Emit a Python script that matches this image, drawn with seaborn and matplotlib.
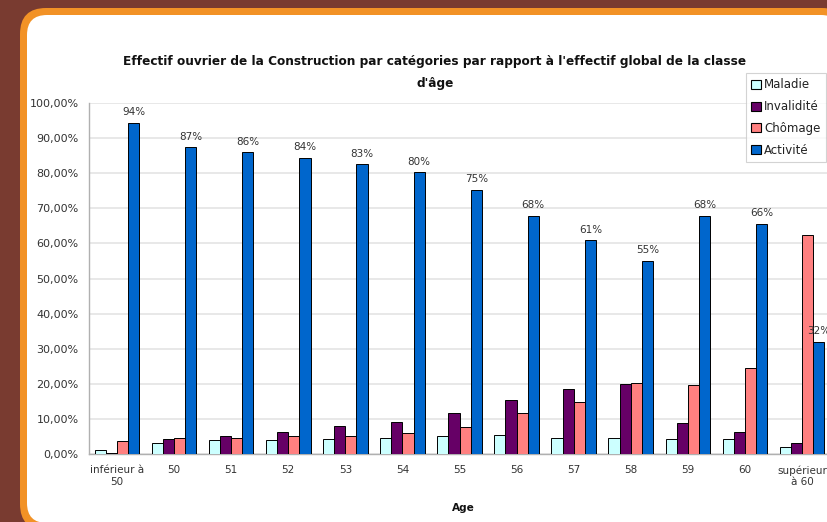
import numpy as np
import pandas as pd
import matplotlib
matplotlib.use('Agg')
import matplotlib.pyplot as plt
from matplotlib.patches import FancyBboxPatch, Patch
from matplotlib.transforms import IdentityTransform
import seaborn as sns

# Data (percent of the age class)
ages = ["inférieur à\n50", "50", "51", "52", "53", "54", "55", "56", "57", "58", "59", "60",
        "supérieur\nà 60"]
categories = ["Maladie", "Invalidité", "Chômage", "Activité"]
maladie = [1.2, 3.0, 3.9, 3.9, 4.3, 4.6, 5.1, 5.3, 4.7, 4.7, 4.2, 4.2, 2.1]
invalidite = [0.4, 4.2, 5.2, 6.3, 8.0, 9.1, 11.6, 15.4, 18.6, 19.9, 8.8, 6.2, 3.2]
chomage = [3.8, 4.7, 4.7, 5.0, 5.0, 6.1, 7.8, 11.8, 14.9, 20.3, 19.6, 24.6, 62.4]
activite = [94.4, 87.4, 85.9, 84.4, 82.6, 80.3, 75.2, 67.8, 60.9, 55.0, 67.9, 65.6, 32.0]
yticks = np.arange(0, 101, 10)

colors = ["#ccffff", "#660066", "#ff8080", "#0066cc"]
BROWN = "#793b30"
ORANGE = "#f29226"

df = pd.DataFrame({
    "Age": ages * 4,
    "Catégorie": np.repeat(categories, len(ages)),
    "Part": maladie + invalidite + chomage + activite,
})

sns.set_style("white")
plt.rcParams['font.family'] = ['DejaVu Sans']

W, H = 827, 522
fig = plt.figure(figsize=(W / 100, H / 100), dpi=100)
fig.patch.set_facecolor(BROWN)

# slide frame: orange rounded border with white panel (runs off the right edge)
outer = FancyBboxPatch((20, -8), 828, 522, boxstyle="round,pad=0,rounding_size=26",
                       transform=IdentityTransform(), facecolor=ORANGE, edgecolor="none", zorder=-2)
inner = FancyBboxPatch((27, -1), 814, 508, boxstyle="round,pad=0,rounding_size=20",
                       transform=IdentityTransform(), facecolor="white", edgecolor="none", zorder=-1)
fig.add_artist(outer)
fig.add_artist(inner)

ax = fig.add_axes([88.5 / W, 1 - 454 / H, (830.5 - 88.5) / W, (454 - 103) / H])
ax.set_facecolor("none")

sns.barplot(data=df, x="Age", y="Part", hue="Catégorie", order=ages, hue_order=categories,
            palette=colors, saturation=1, width=0.78, edgecolor="black", linewidth=0.7,
            legend=False, ax=ax, zorder=3)

ax.set_xlim(-0.5, len(ages) - 0.5)
ax.set_ylim(0, 100)

# grid and axes
ax.set_yticks(yticks)
ax.set_yticklabels([f"{v:.2f}".replace(".", ",") + "%" for v in yticks])
ax.yaxis.grid(True, color="#e6e6e6", linewidth=1.3, zorder=0)
ax.set_axisbelow(True)
for s in ["top", "right"]:
    ax.spines[s].set_visible(False)
for s in ["left", "bottom"]:
    ax.spines[s].set_color("#b0b0b0")
    ax.spines[s].set_linewidth(1.0)

ax.set_xticks(np.arange(-0.5, len(ages)), labels=[""] * (len(ages) + 1))
ax.set_xticks(np.arange(len(ages)), labels=ages, minor=True)
ax.tick_params(axis="x", which="major", length=4, color="#b0b0b0", direction="out")
ax.tick_params(axis="x", which="minor", length=0, pad=8, labelsize=7.5, labelcolor="#333333")
ax.tick_params(axis="y", length=4, color="#b0b0b0", direction="out", pad=3,
               labelsize=8, labelcolor="#333333")
ax.set_xlabel("")
ax.set_ylabel("")

# percent labels above the Activité bars
ax.bar_label(ax.containers[3], labels=[f"{v:.0f}%" for v in activite], padding=4,
             fontsize=7.5, color="#333333")

# titles
fig.text(435 / W, 1 - 62 / H,
         "Effectif ouvrier de la Construction par catégories par rapport à l'effectif global de la classe",
         ha="center", va="center", fontsize=8.7, fontweight="bold", color="#111111")
fig.text(435 / W, 1 - 83 / H, "d'âge", ha="center", va="center", fontsize=8.7,
         fontweight="bold", color="#111111")
fig.text(463 / W, 1 - 508 / H, "Age", ha="center", va="center", fontsize=7.6,
         fontweight="bold", color="#111111")

# legend
handles = [Patch(facecolor=c, edgecolor="black", linewidth=0.8) for c in colors]
leg = fig.legend(handles, categories, loc="upper left", bbox_to_anchor=(746 / W, 1 - 73 / H),
                 fontsize=8.5, frameon=True, fancybox=False, edgecolor="#c8c8c8",
                 handlelength=0.8, handleheight=0.8, handletextpad=0.3,
                 labelspacing=0.75, borderpad=0.45, borderaxespad=0)
leg.get_frame().set_linewidth(0.8)
for t in leg.get_texts():
    t.set_color("#222222")

fig.savefig("out.png", dpi=100)
